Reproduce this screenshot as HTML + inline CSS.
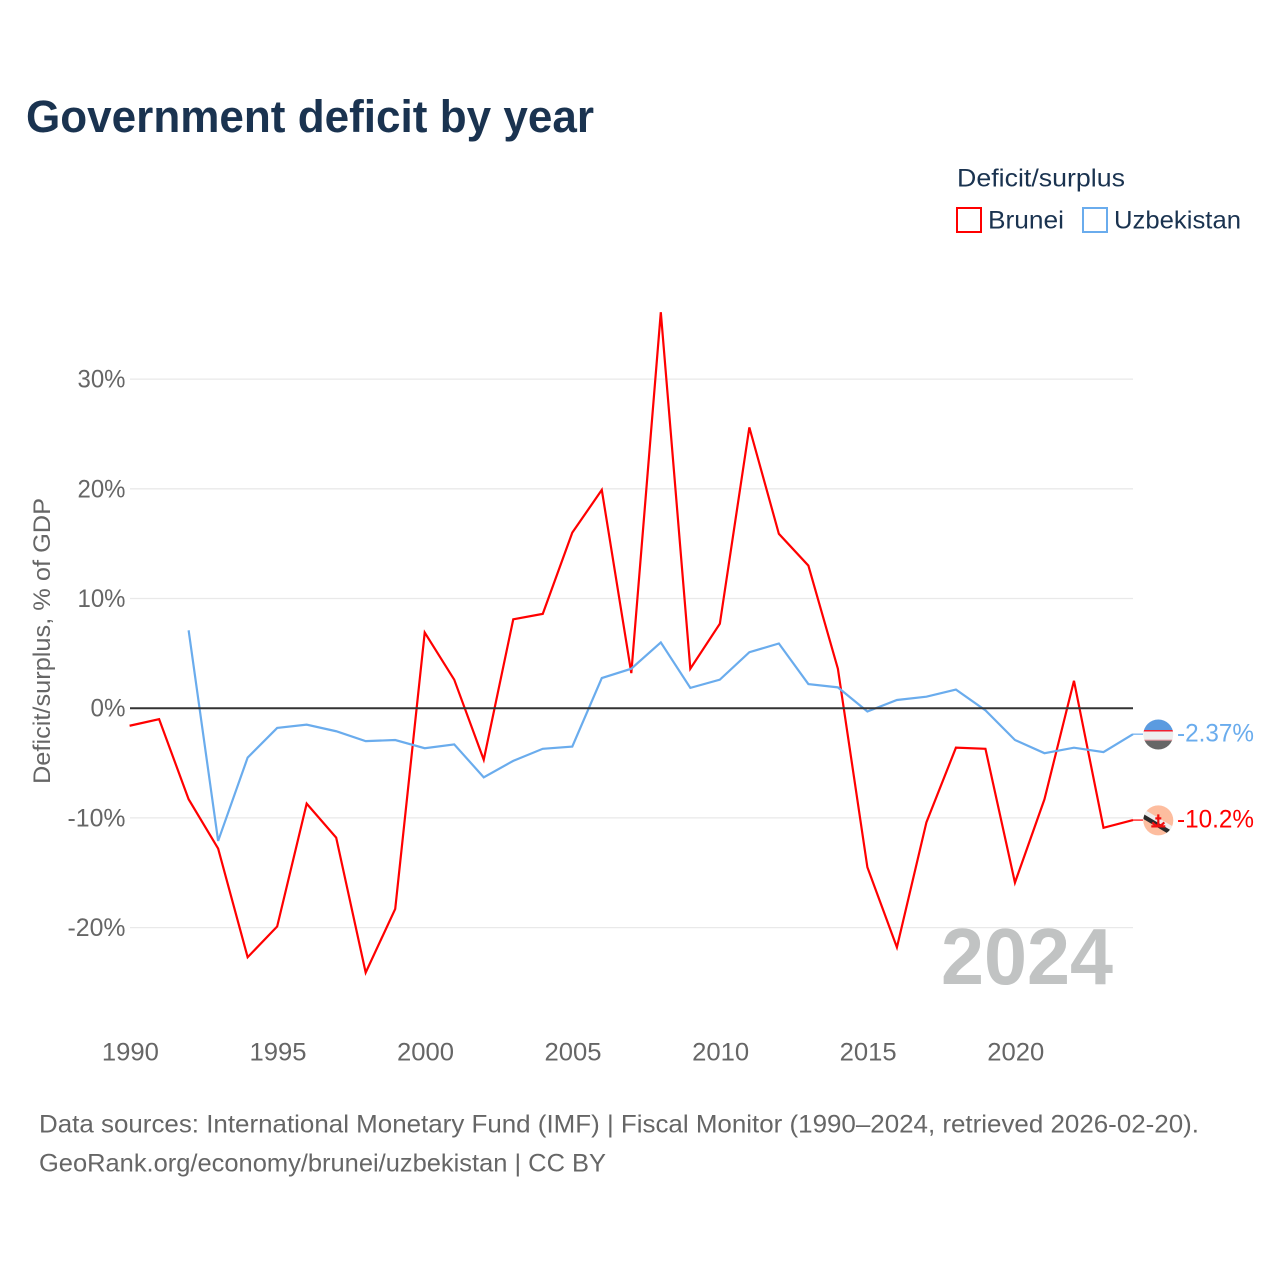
<!DOCTYPE html>
<html lang="en">
<head>
<meta charset="utf-8">
<title>Government deficit by year</title>
<style>
html,body{margin:0;padding:0;background:#fff;width:1280px;height:1280px;overflow:hidden}
svg{display:block}
text{font-family:"Liberation Sans",sans-serif}
</style>
</head>
<body>
<svg id="chart" xmlns="http://www.w3.org/2000/svg" width="1280" height="1280" viewBox="0 0 1280 1280">
<text x="26" y="132" font-size="45" font-weight="700" fill="#1a3350" textLength="568" lengthAdjust="spacingAndGlyphs">Government deficit by year</text>
<g id="gridlines"></g>
<g id="y-ticks"></g>
<g id="x-ticks"></g>
<text transform="translate(50,784) rotate(-90)" font-size="24" fill="#666" textLength="286" lengthAdjust="spacingAndGlyphs">Deficit/surplus, % of GDP</text>
<text x="1113" y="984" text-anchor="end" font-size="80" font-weight="700" fill="#c1c3c3" textLength="172" lengthAdjust="spacingAndGlyphs">2024</text>
<g id="series"></g>
<line id="zero-line" x1="130" x2="1133" stroke="#333" stroke-width="2"></line>
<g>
<text x="957" y="186.500" font-size="25" fill="#1a3350" textLength="168" lengthAdjust="spacingAndGlyphs">Deficit/surplus</text>
<rect x="957" y="208" width="24" height="24" fill="#fff" stroke="#ff0000" stroke-width="2"></rect>
<text x="988" y="228.500" font-size="25" fill="#1a3350" textLength="76" lengthAdjust="spacingAndGlyphs">Brunei</text>
<rect x="1083" y="208" width="24" height="24" fill="#fff" stroke="#6aaced" stroke-width="2"></rect>
<text x="1114" y="228.500" font-size="25" fill="#1a3350" textLength="127" lengthAdjust="spacingAndGlyphs">Uzbekistan</text>
</g>
<g>
<text x="39" y="1132.500" font-size="25" fill="#666" textLength="1160" lengthAdjust="spacingAndGlyphs">Data sources: International Monetary Fund (IMF) | Fiscal Monitor (1990–2024, retrieved 2026-02-20).</text>
<text x="39" y="1171.500" font-size="25" fill="#666" textLength="567" lengthAdjust="spacingAndGlyphs">GeoRank.org/economy/brunei/uzbekistan | CC BY</text>
</g>
<defs>
<clipPath id="flag-clip"><circle cx="0" cy="0" r="15"></circle></clipPath>
</defs>
<line id="connector-uz" stroke="#6aaced" stroke-width="1.500" opacity="0.8"></line>
<line id="connector-bn" stroke="#ff0000" stroke-width="1.500" opacity="0.8"></line>
<g id="flag-uz">
<g clip-path="url(#flag-clip)">
<rect x="-16" y="-16" width="32" height="12" fill="#5b9be0"></rect>
<rect x="-16" y="-4" width="32" height="10" fill="#eeeeee"></rect>
<rect x="-16" y="-4.500" width="32" height="1.500" fill="#f02030"></rect>
<rect x="-16" y="5.200" width="32" height="1" fill="#e08088"></rect>
<rect x="-16" y="6.200" width="32" height="10" fill="#666666"></rect>
</g>
</g>
<g id="flag-bn">
<g clip-path="url(#flag-clip)">
<rect x="-16" y="-16" width="32" height="32" fill="#fdbd9f"></rect>
<polygon points="-16,-12 16,7 16,14 -16,-5" fill="#eeeeee"></polygon>
<polygon points="-16,-7 16,12 16,17 -16,-2" fill="#2a2a2a"></polygon>
<path d="M0 -6v12M-6 2q6 7 12 0M-3 -2h6M-7 6h14" stroke="#f01010" stroke-width="2.200" fill="none"></path>
</g>
</g>
<text id="label-uz" x="1177" font-size="25" fill="#6aaced" textLength="77" lengthAdjust="spacingAndGlyphs"></text>
<text id="label-bn" x="1177" font-size="25" fill="#ff0000" textLength="77" lengthAdjust="spacingAndGlyphs"></text>
</svg>
<script>
var years = [1990,1991,1992,1993,1994,1995,1996,1997,1998,1999,2000,2001,2002,2003,2004,2005,2006,2007,2008,2009,2010,2011,2012,2013,2014,2015,2016,2017,2018,2019,2020,2021,2022,2023,2024];
var bruneiValues = [-1.6,-1.0,-8.3,-12.8,-22.7,-19.9,-8.7,-11.8,-24.1,-18.3,6.9,2.6,-4.7,8.1,8.6,16.0,19.9,3.2,36.1,3.6,7.7,25.6,15.9,13.0,3.6,-14.5,-21.8,-10.4,-3.6,-3.7,-15.9,-8.3,2.5,-10.9,-10.2];
var uzbekistanValues = [null,null,7.1,-12.1,-4.5,-1.8,-1.5,-2.1,-3.0,-2.9,-3.65,-3.3,-6.3,-4.8,-3.7,-3.5,2.75,3.6,6.0,1.85,2.6,5.1,5.9,2.2,1.9,-0.3,0.75,1.05,1.7,-0.2,-2.9,-4.1,-3.6,-4.0,-2.37];
var yTickValues = [-20,-10,0,10,20,30];
var xTickValues = [1990,1995,2000,2005,2010,2015,2020];
var endLabels = ['-10.2%','-2.37%'];

var NS = 'http://www.w3.org/2000/svg';
function xScale(year){ return 129.6 + (year - 1990) * (1133 - 129.6) / 34; }
function yScale(v){ return 708.2 - v * 10.97; }

var gridG = document.getElementById('gridlines');
var yG = document.getElementById('y-ticks');
yTickValues.forEach(function(t){
  if(t !== 0){
    var g = document.createElementNS(NS,'line');
    
    
    g.setAttribute('x1', 130);
    g.setAttribute('x2', 1133);
    g.setAttribute('y1', yScale(t));
    g.setAttribute('y2', yScale(t));
    g.setAttribute('stroke', '#e9e9e9');
    g.setAttribute('stroke-width', '1.300');
    gridG.appendChild(g);
  }
  var l = document.createElementNS(NS,'text');
  
  
  l.setAttribute('x', 125.5);
  l.setAttribute('y', yScale(t) + 8.5);
  l.setAttribute('text-anchor', 'end');
  l.setAttribute('font-size', '25');
  l.setAttribute('fill', '#666');
  l.setAttribute('textLength', String(t).length > 2 ? '58' : (String(t).length > 1 ? '48' : '35'));
  l.setAttribute('lengthAdjust', 'spacingAndGlyphs');
  l.textContent = t + '%';
  yG.appendChild(l);
});

var xG = document.getElementById('x-ticks');
xTickValues.forEach(function(t){
  var l = document.createElementNS(NS,'text');
  
  
  l.setAttribute('x', xScale(t) + 0.8);
  l.setAttribute('y', 1060.5);
  l.setAttribute('text-anchor', 'middle');
  l.setAttribute('font-size', '25');
  l.setAttribute('fill', '#666');
  l.setAttribute('textLength', '57');
  l.setAttribute('lengthAdjust', 'spacingAndGlyphs');
  l.textContent = t;
  xG.appendChild(l);
});

var zero = document.getElementById('zero-line');
zero.setAttribute('y1', yScale(0));
zero.setAttribute('y2', yScale(0));

function buildPath(values){
  var d = '';
  var started = false;
  values.forEach(function(v,i){
    if(v === null) return;
    d += (started ? 'L' : 'M') + xScale(years[i]).toFixed(2) + ' ' + yScale(v).toFixed(2);
    started = true;
  });
  return d;
}
var sG = document.getElementById('series');
var pB = document.createElementNS(NS,'path');


pB.setAttribute('d', buildPath(bruneiValues));
pB.setAttribute('fill', 'none');
pB.setAttribute('stroke', '#ff0000');
pB.setAttribute('stroke-width', '2.200');
sG.appendChild(pB);
var pU = document.createElementNS(NS,'path');


pU.setAttribute('d', buildPath(uzbekistanValues));
pU.setAttribute('fill', 'none');
pU.setAttribute('stroke', '#6aaced');
pU.setAttribute('stroke-width', '2.200');
sG.appendChild(pU);

function placeEnd(values, flagId, connectorId, labelId, labelText){
  var v = values[values.length - 1];
  var y = yScale(v);
  var x = xScale(years[years.length - 1]);
  document.getElementById(flagId).setAttribute('transform', 'translate(1158.3,' + (y + 0.3) + ')');
  var c = document.getElementById(connectorId);
  c.setAttribute('x1', x);
  c.setAttribute('x2', 1143);
  c.setAttribute('y1', y);
  c.setAttribute('y2', y);
  var t = document.getElementById(labelId);
  t.setAttribute('y', y + 7.5);
  t.textContent = labelText;
}
placeEnd(bruneiValues, 'flag-bn', 'connector-bn', 'label-bn', endLabels[0]);
placeEnd(uzbekistanValues, 'flag-uz', 'connector-uz', 'label-uz', endLabels[1]);
</script>
</body>
</html>
